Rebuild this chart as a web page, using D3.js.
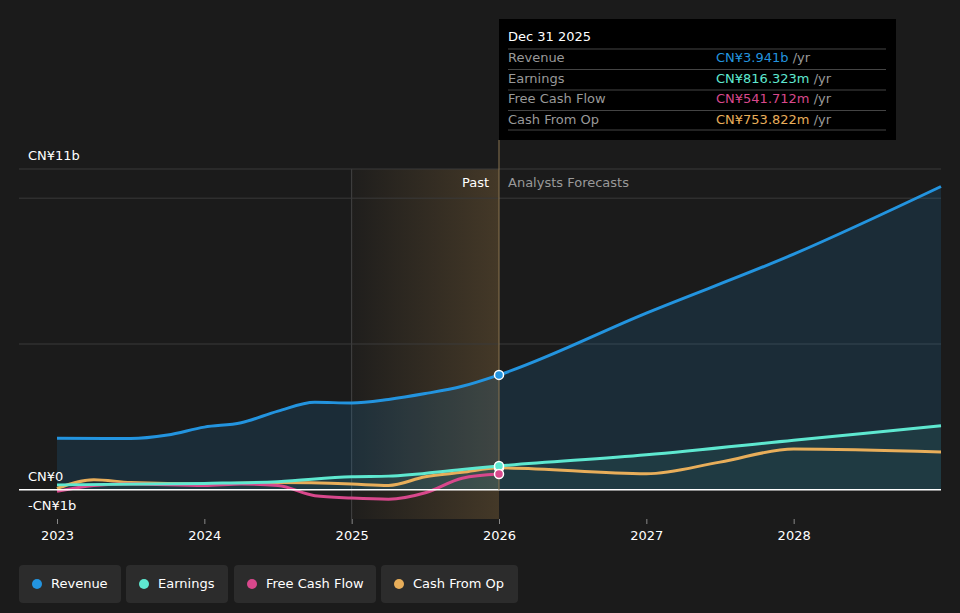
<!DOCTYPE html>
<html><head><meta charset="utf-8">
<script src="https://cdn.jsdelivr.net/npm/d3@7"></script>
<style>body{margin:0;background:#1b1b1b;font-family:"DejaVu Sans",sans-serif}</style>
</head><body>
<script>
// values in CN¥ billions, x in fractional years
var revenue = [[2023,1.77],[2023.5,1.76],[2023.75,1.88],[2024,2.15],[2024.25,2.3],[2024.5,2.7],[2024.75,3.0],[2025,2.98],[2025.25,3.1],[2025.5,3.3],[2025.75,3.55],[2026,3.941],[2027,6.06],[2028,8.08],[2029,10.4]];
var earnings = [[2023,0.17],[2024,0.22],[2024.5,0.28],[2025,0.45],[2025.25,0.47],[2025.75,0.7],[2026,0.816],[2027,1.2],[2028,1.7],[2029,2.2]];
var fcf = [[2023,-0.05],[2023.25,0.15],[2023.5,0.2],[2024,0.15],[2024.25,0.2],[2024.5,0.15],[2024.75,-0.2],[2025,-0.28],[2025.25,-0.32],[2025.5,-0.1],[2025.75,0.4],[2026,0.542]];
var cfo = [[2023,0.05],[2023.25,0.35],[2023.5,0.25],[2024,0.2],[2024.5,0.25],[2025,0.2],[2025.25,0.15],[2025.5,0.45],[2025.75,0.6],[2026,0.754],[2027,0.55],[2027.5,0.95],[2028,1.4],[2029,1.3]];
var years = [2023,2024,2025,2026,2027,2028];
var names = ["Revenue","Earnings","Free Cash Flow","Cash From Op"];
var colors = ["#2394df","#5ee8d0","#d8488c","#e8ae5a"];
var tipVals = ["CN¥3.941b","CN¥816.323m","CN¥541.712m","CN¥753.822m"];

var W=960,H=613;
var svg=d3.select("body").append("svg").attr("width",W).attr("height",H);
var x=d3.scaleLinear().domain([2023,2029]).range([57,941]);
var y=d3.scaleLinear().domain([-1,11]).range([519,169]);
var L=19;

var defs=svg.append("defs");
var g=defs.append("linearGradient").attr("id","past").attr("x1",0).attr("x2",1);
g.append("stop").attr("offset",0).attr("stop-color","#e8ae5a").attr("stop-opacity",0.02);
g.append("stop").attr("offset",1).attr("stop-color","#e8ae5a").attr("stop-opacity",0.2);

svg.append("rect").attr("x",x(2025)).attr("y",169).attr("width",x(2026)-x(2025)).attr("height",519-169).attr("fill","url(#past)");
svg.append("line").attr("x1",x(2025)).attr("x2",x(2025)).attr("y1",169).attr("y2",519).attr("stroke","#444");

[11,10,5].forEach(function(v){
  svg.append("line").attr("x1",L).attr("x2",941).attr("y1",y(v)).attr("y2",y(v)).attr("stroke","#3a3a3a");
});

var line=d3.line().x(d=>x(d[0])).y(d=>y(d[1])).curve(d3.curveMonotoneX);
var area=d3.area().x(d=>x(d[0])).y0(y(0)).y1(d=>y(d[1])).curve(d3.curveMonotoneX);
svg.append("path").attr("d",area(revenue)).attr("fill","#2394df").attr("opacity",0.15);
svg.append("path").attr("d",area(earnings)).attr("fill","#5ee8d0").attr("opacity",0.08);

var series=[revenue,earnings,fcf,cfo];
[3,2,1,0].forEach(function(i){
  svg.append("path").attr("d",line(series[i])).attr("fill","none").attr("stroke",colors[i]).attr("stroke-width",3);
});

svg.append("line").attr("x1",L).attr("x2",941).attr("y1",y(0)).attr("y2",y(0)).attr("stroke","#fff").attr("stroke-width",1.5);
svg.append("line").attr("x1",x(2026)).attr("x2",x(2026)).attr("y1",140).attr("y2",490).attr("stroke","#8a7550").attr("stroke-width",1);

[0,3,1,2].forEach(function(i){
  var d=series[i].find(p=>p[0]===2026);
  svg.append("circle").attr("cx",x(2026)).attr("cy",y(d[1])).attr("r",4.5).attr("fill",colors[i]).attr("stroke","#fff").attr("stroke-width",1.5);
});

svg.append("text").attr("x",489).attr("y",187).attr("text-anchor","end").attr("fill","#fff").attr("font-size",13).text("Past");
svg.append("text").attr("x",508).attr("y",187).attr("fill","#999").attr("font-size",13).text("Analysts Forecasts");

svg.append("text").attr("x",28).attr("y",160).attr("fill","#fff").attr("font-size",13).text("CN¥11b");
svg.append("text").attr("x",28).attr("y",481).attr("fill","#fff").attr("font-size",13).text("CN¥0");
svg.append("text").attr("x",28).attr("y",510).attr("fill","#fff").attr("font-size",13).text("-CN¥1b");

var ax=svg.append("g").attr("transform","translate(0,519)")
  .call(d3.axisBottom(x).tickValues(years).tickFormat(d3.format("d")).tickSize(5));
ax.select(".domain").remove();
ax.selectAll("line").attr("stroke","#888");
ax.selectAll("text").attr("fill","#fff").attr("font-size",13).attr("font-family","DejaVu Sans").attr("dy","1em");

// tooltip
var tp=svg.append("g").attr("transform","translate(499,19)");
tp.append("rect").attr("width",397).attr("height",121).attr("fill","#000");
tp.append("text").attr("x",9).attr("y",22).attr("fill","#fff").attr("font-size",13).text("Dec 31 2025");
names.forEach(function(n,i){
  var yy=38+i*20.5;
  tp.append("line").attr("x1",9).attr("x2",387).attr("y1",yy-8).attr("y2",yy-8).attr("stroke","#444");
  tp.append("text").attr("x",9).attr("y",yy+5).attr("fill","#999").attr("font-size",13).text(n);
  var t=tp.append("text").attr("x",217).attr("y",yy+5).attr("font-size",13);
  t.append("tspan").attr("fill",colors[i]).text(tipVals[i]);
  t.append("tspan").attr("fill","#999").text(" /yr");
});
tp.append("line").attr("x1",9).attr("x2",387).attr("y1",111).attr("y2",111).attr("stroke","#444");

// legend
var lx=[19,126,234,381], lw=[102,102,142,137];
names.forEach(function(n,i){
  var lg=svg.append("g").attr("transform","translate("+lx[i]+",565)");
  lg.append("rect").attr("width",lw[i]).attr("height",38).attr("rx",4).attr("fill","#2c2c2c");
  lg.append("circle").attr("cx",18).attr("cy",19).attr("r",5).attr("fill",colors[i]);
  lg.append("text").attr("x",32).attr("y",23).attr("fill","#fff").attr("font-size",13).text(n);
});
</script>
</body></html>
